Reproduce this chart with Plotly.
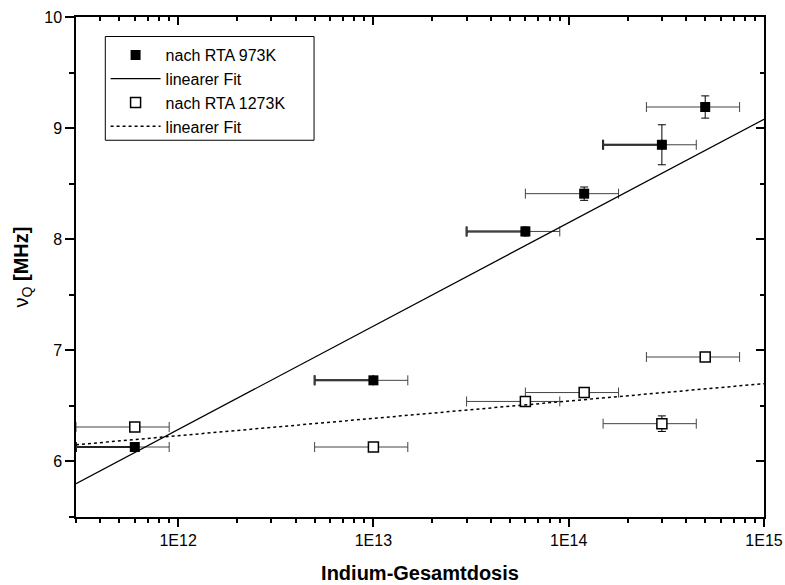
import plotly.graph_objects as go

# Indium total dose (ions/cm^2) and its uncertainty
dose = [6e11, 1e13, 6e13, 1.2e14, 3e14, 5e14]
dose_err = [3e11, 5e12, 3e13, 6e13, 1.5e14, 2.5e14]

# Quadrupole frequency nu_Q [MHz] after RTA at 973 K
nuq_973 = [6.13, 6.73, 8.07, 8.41, 8.85, 9.19]
nuq_973_err = [0.02, 0.02, 0.04, 0.06, 0.18, 0.10]

# Quadrupole frequency nu_Q [MHz] after RTA at 1273 K
nuq_1273 = [6.31, 6.13, 6.54, 6.62, 6.34, 6.94]
nuq_1273_err = [0.02, 0.02, 0.02, 0.02, 0.07, 0.02]

# Linear fits (nu_Q vs. log dose), evaluated at the ends of the dose range
fit_dose = [3e11, 1e15]
fit_973 = [5.80, 9.08]
fit_1273 = [6.15, 6.70]

# Axis ticks
x_major = [1e12, 1e13, 1e14, 1e15]
x_major_text = ["1E12", "1E13", "1E14", "1E15"]
y_major = [6, 7, 8, 9, 10]
y_minor = [5.5, 6.5, 7.5, 8.5, 9.5]

x_minor = [k * 10.0 ** e for e in range(11, 15) for k in range(2, 10)]
x_minor = [v for v in x_minor if 3e11 <= v <= 1e15]

# the lower-dose half of these error bars is drawn heavier
heavy_left = [True, True, True, False, True, False]

FONT = "Liberation Sans, Arial, sans-serif"

fig = go.Figure()

# heavy lower halves of the horizontal error bars (973 K)
hx = [d for d, h in zip(dose, heavy_left) if h]
hy = [v for v, h in zip(nuq_973, heavy_left) if h]
he = [e for e, h in zip(dose_err, heavy_left) if h]
fig.add_trace(go.Scatter(
    x=hx, y=hy, mode="markers", showlegend=False, hoverinfo="skip",
    marker=dict(size=1, opacity=0),
    error_x=dict(type="data", symmetric=False, array=[0] * len(he), arrayminus=he,
                 color="black", thickness=2, width=5),
))

fig.add_trace(go.Scatter(
    x=dose, y=nuq_973, mode="markers", name="nach RTA 973K",
    marker=dict(symbol="square", size=10, color="black",
                line=dict(color="black", width=0)),
    error_x=dict(type="data", array=dose_err, color="#444", thickness=1, width=5),
    error_y=dict(type="data", array=nuq_973_err, color="black", thickness=1, width=4),
))
fig.add_trace(go.Scatter(
    x=fit_dose, y=fit_973, mode="lines", name="linearer Fit",
    line=dict(color="black", width=1.3),
))
fig.add_trace(go.Scatter(
    x=dose, y=nuq_1273, mode="markers", name="nach RTA 1273K",
    marker=dict(symbol="square", size=10, color="white",
                line=dict(color="black", width=1.5)),
    error_x=dict(type="data", array=dose_err, color="#444", thickness=1, width=5),
    error_y=dict(type="data", array=nuq_1273_err, color="black", thickness=1, width=4),
))
fig.add_trace(go.Scatter(
    x=fit_dose, y=fit_1273, mode="lines", name="linearer Fit",
    line=dict(color="black", width=1.5, dash="dot"),
))

# invisible trace carrying the mirrored (top/right) axes
fig.add_trace(go.Scatter(
    x=dose, y=nuq_973, xaxis="x2", yaxis="y2", mode="markers",
    marker=dict(opacity=0), showlegend=False, hoverinfo="skip",
))

x_range = [11.4771, 15]
y_range = [5.5, 10]

# legend frame (paper coordinates of the plot area)
fig.add_shape(
    type="rect", xref="paper", yref="paper",
    x0=0.0426, x1=0.346, y0=0.7535, y1=0.961,
    line=dict(color="black", width=1), fillcolor="white", layer="above",
)

fig.update_layout(
    width=785, height=585,
    margin=dict(l=76, r=21, t=17, b=68, autoexpand=False),
    paper_bgcolor="white", plot_bgcolor="white",
    font=dict(family=FONT, size=16, color="black"),
    showlegend=True,
    legend=dict(
        x=0.043, y=0.958, xanchor="left", yanchor="top",
        bgcolor="rgba(0,0,0,0)", borderwidth=0,
        font=dict(family=FONT, size=16, color="black"),
        tracegroupgap=0, itemwidth=50,
    ),
    xaxis=dict(
        type="log", range=x_range, showgrid=False, zeroline=False,
        automargin=False,
        showline=True, linecolor="black", linewidth=1.5,
        tickmode="array", tickvals=x_major, ticktext=x_major_text,
        ticks="outside", ticklen=8, tickwidth=1.5, tickcolor="black",
        minor=dict(tickvals=x_minor, ticks="outside", ticklen=4,
                   tickwidth=1.5, tickcolor="black", showgrid=False),
        tickfont=dict(family=FONT, size=16),
        title=dict(text="<b>Indium-Gesamtdosis</b>",
                   font=dict(family=FONT, size=20), standoff=18),
    ),
    yaxis=dict(
        range=y_range, showgrid=False, zeroline=False,
        automargin=False,
        showline=True, linecolor="black", linewidth=1.5,
        tickmode="array", tickvals=y_major,
        ticks="outside", ticklen=9, tickwidth=1.5, tickcolor="black",
        minor=dict(tickvals=y_minor, ticks="outside", ticklen=5,
                   tickwidth=1.5, tickcolor="black", showgrid=False),
        tickfont=dict(family=FONT, size=16),
        title=dict(text="ν<sub>Q</sub> <b>[MHz]</b>",
                   font=dict(family=FONT, size=20), standoff=10),
    ),
    xaxis2=dict(
        type="log", range=x_range, overlaying="x", side="top", anchor="y",
        automargin=False,
        showgrid=False, zeroline=False, showline=True, linecolor="black",
        linewidth=1.5, showticklabels=False,
        tickmode="array", tickvals=x_major,
        ticks="inside", ticklen=8, tickwidth=1.5, tickcolor="black",
        minor=dict(tickvals=x_minor, ticks="inside", ticklen=4,
                   tickwidth=1.5, tickcolor="black", showgrid=False),
    ),
    yaxis2=dict(
        range=y_range, overlaying="y", side="right", anchor="x",
        automargin=False,
        showgrid=False, zeroline=False, showline=True, linecolor="black",
        linewidth=1.5, showticklabels=False,
        tickmode="array", tickvals=y_major,
        ticks="inside", ticklen=8, tickwidth=1.5, tickcolor="black",
        minor=dict(tickvals=y_minor, ticks="inside", ticklen=4,
                   tickwidth=1.5, tickcolor="black", showgrid=False),
    ),
)

fig.write_html("out.html")
